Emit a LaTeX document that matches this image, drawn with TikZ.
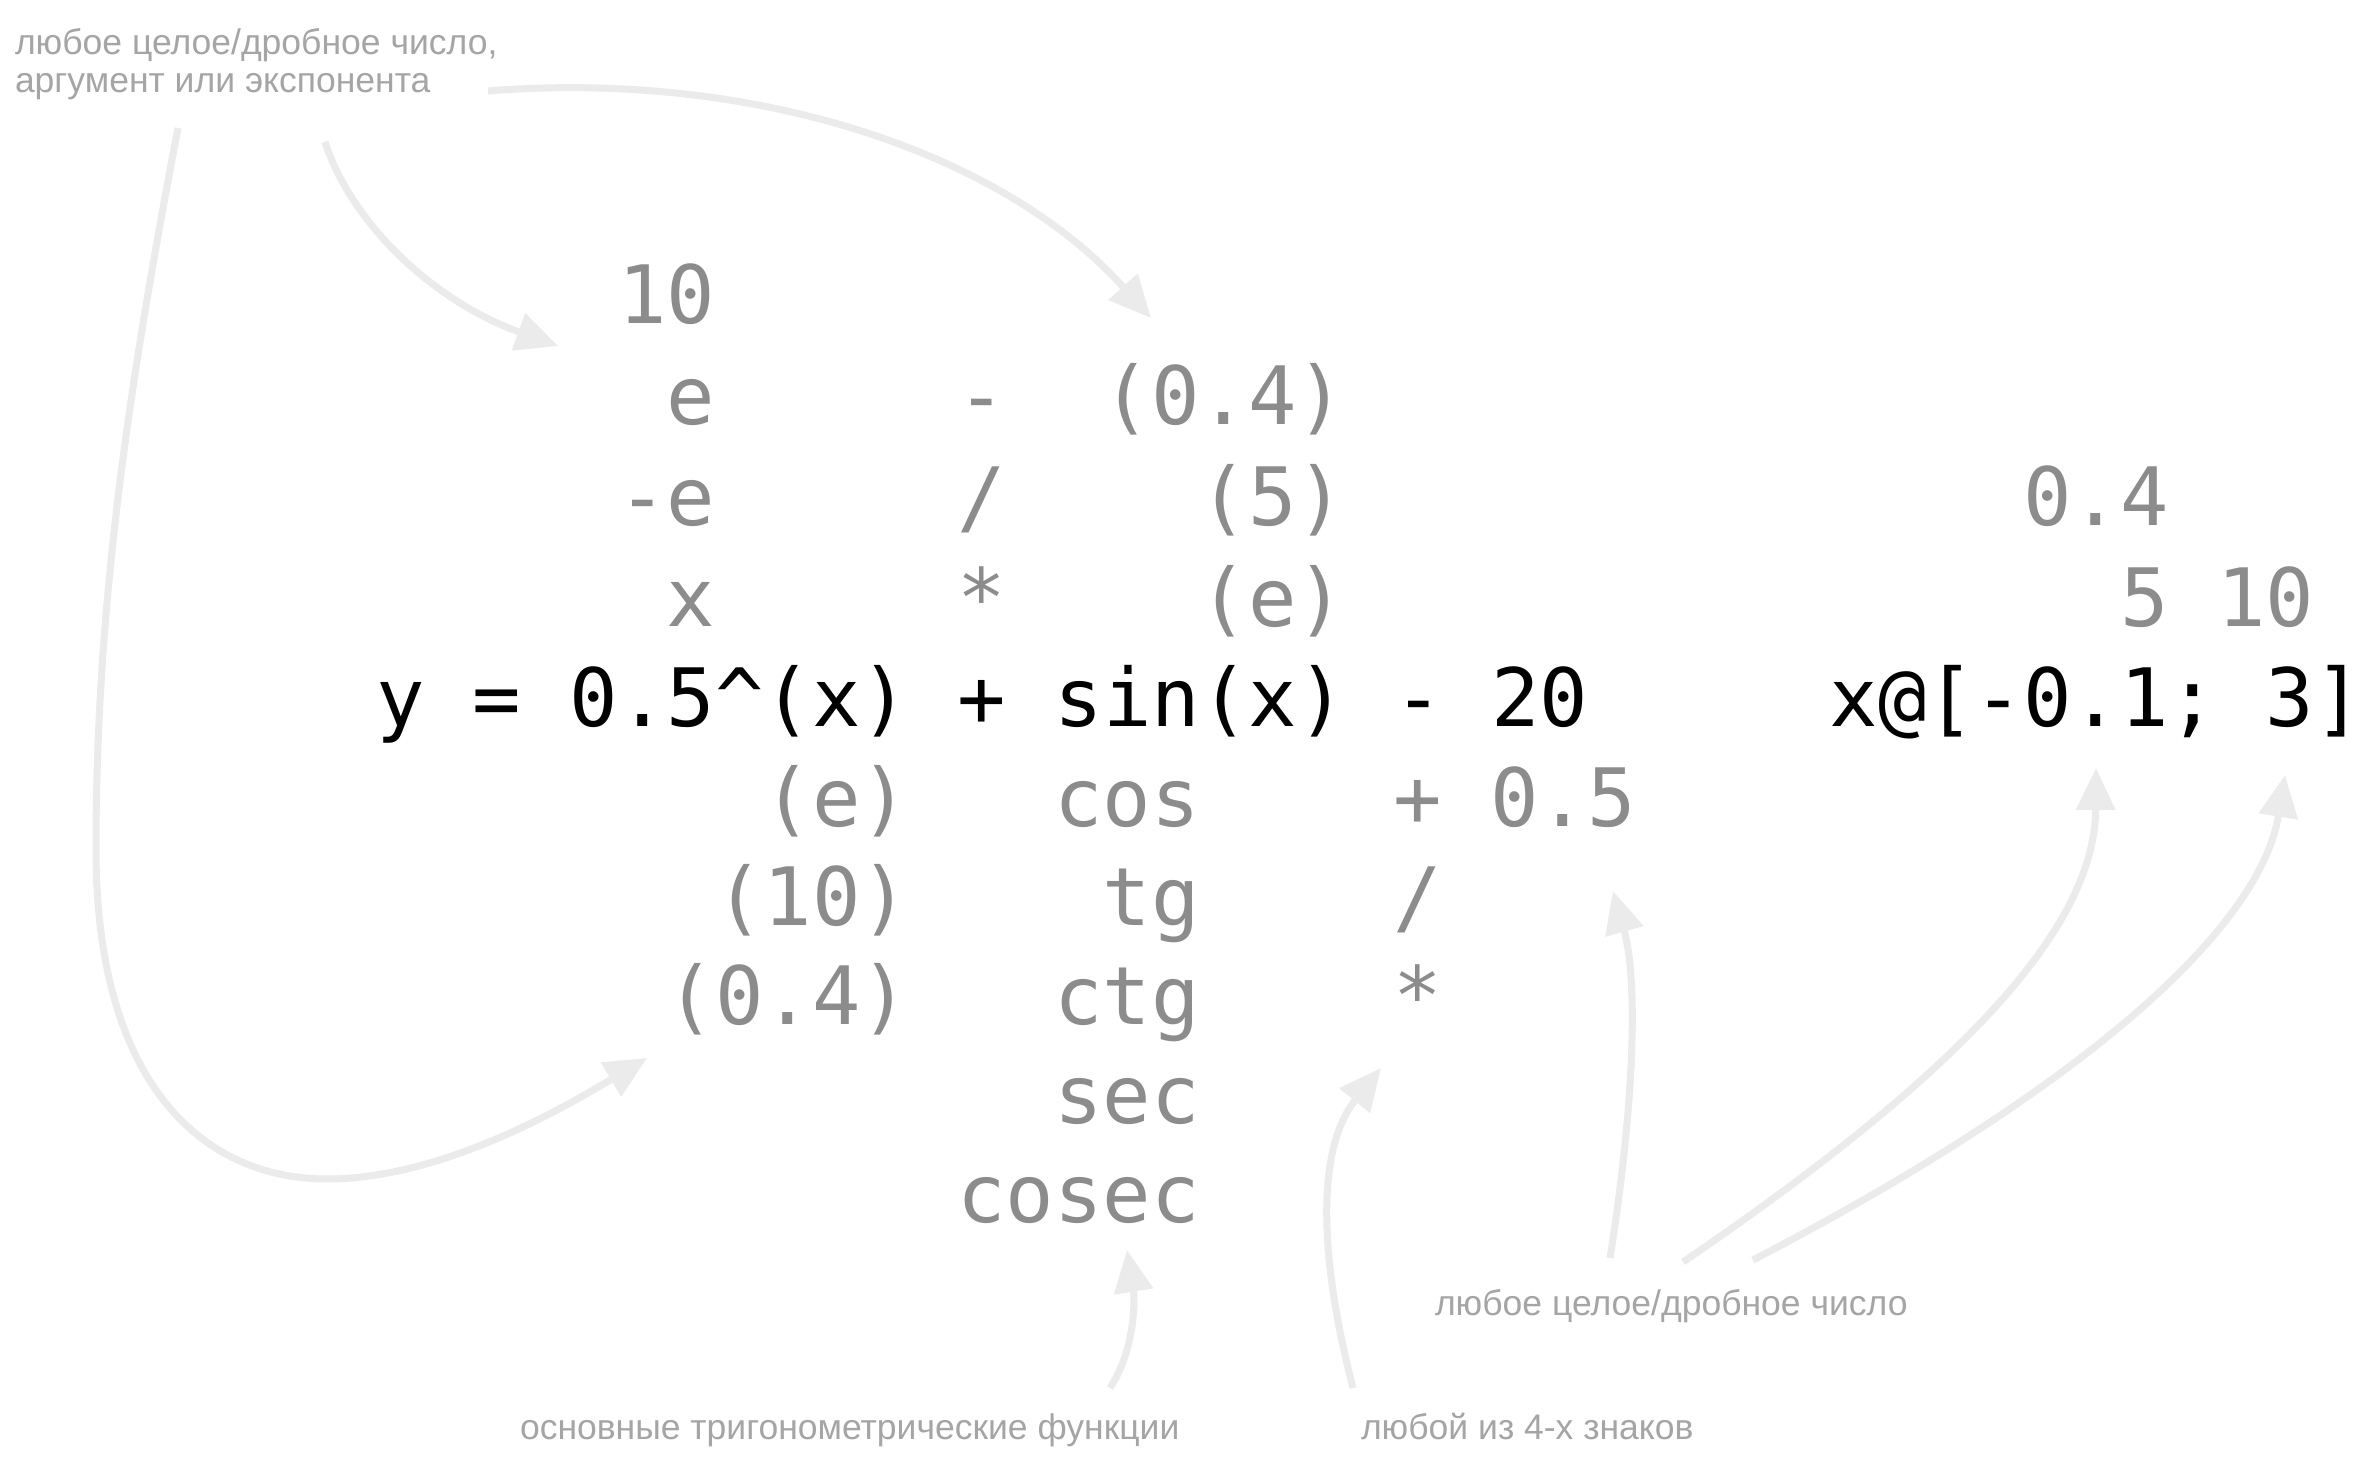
\documentclass[tikz,border=0pt]{standalone}
\usepackage{fontspec}
\setmainfont{Liberation Sans}
\newfontfamily\codefont{DejaVu Sans Mono}
\usetikzlibrary{arrows.meta}
\definecolor{codegrey}{HTML}{8C8C8C}
\definecolor{lblgrey}{HTML}{A5A5A5}
\definecolor{arrgrey}{HTML}{EBEBEB}
\begin{document}
\begin{tikzpicture}[x=0.01cm,y=-0.01cm,
  code/.style={anchor=base west, inner sep=0pt, outer sep=0pt,
    font=\codefont\fontsize{22.90pt}{22.90pt}\selectfont, text=codegrey},
  codemain/.style={code, text=black},
  lbl/.style={anchor=base west, inner sep=0pt, outer sep=0pt,
    font=\fontsize{10.1pt}{10.81pt}\selectfont, text=lblgrey, align=left},
  pointer/.style={draw=arrgrey, line width=0.07cm,
    -{Triangle[length=0.42cm,width=0.38cm]}}]
\useasboundingbox[fill=white] (0,0) rectangle (2363,1471);

% ---- code rows (col x = 376 + 48.45 c) ----
\node[code] (n10)   at (618.25,323.8) {10};
\node[code] (ne)    at (666.7,424.6) {e};
\node[code] (nme)   at (618.25,525.4) {-e};
\node[code] (nx)    at (666.7,626.2) {x};
\node[code] (nmin)  at (957.4,424.6) {-};
\node[code] (nsl)   at (957.4,525.4) {/};
\node[code] (nst)   at (957.4,626.2) {*};
\node[code] (np04)  at (1102.75,424.6) {(0.4)};
\node[code] (np5)   at (1199.65,525.4) {(5)};
\node[code] (npe)   at (1199.65,626.2) {(e)};
\node[code] (r04)   at (2023.3,525.4) {0.4};
\node[code] (r510)  at (2120.2,626.2) {5 10};

\node[codemain] (main)  at (376,727) {y = 0.5\textasciicircum(x) + sin(x) - 20};
\node[codemain] (range) at (1829.5,727) {x@[-0.1; 3]};

\node[code] (ee)    at (763.6,826.2) {(e)};
\node[code] (e10)   at (715.15,925.4) {(10)};
\node[code] (e04)   at (666.7,1024.6) {(0.4)};
\node[code] (fcos)  at (1054.3,826.2) {cos};
\node[code] (ftg)   at (1102.75,925.4) {tg};
\node[code] (fctg)  at (1054.3,1024.6) {ctg};
\node[code] (fsec)  at (1054.3,1123.8) {sec};
\node[code] (fcsc)  at (957.4,1223) {cosec};
\node[code] (p05)   at (1393.45,826.2) {+ 0.5};
\node[code] (s2)    at (1393.45,925.4) {/};
\node[code] (st2)   at (1393.45,1024.6) {*};

% ---- labels ----
\node[lbl] (lbltop) at (15,93) {любое целое/дробное число,\\аргумент или экспонента};
\node[lbl] (lbltrig) at (520,1440) {основные тригонометрические функции};
\node[lbl] (lblsign) at (1361,1440) {любой из 4-х знаков};
\node[lbl] (lblnum) at (1435,1316) {любое целое/дробное число};

% ---- connector ends ----
\coordinate (aS) at (178,128);   \coordinate (aT) at (647,1058);
\coordinate (bS) at (325,142);   \coordinate (bT) at (558,346);
\coordinate (cS) at (488,91);    \coordinate (cT) at (1151,318);
\coordinate (dS) at (1110,1388); \coordinate (dT) at (1127,1250);
\coordinate (eS) at (1353,1388); \coordinate (eT) at (1381,1068);
\coordinate (fS) at (1610,1258); \coordinate (fT) at (1613,891);
\coordinate (gS) at (1683,1262); \coordinate (gT) at (2096,768);
\coordinate (hS) at (1753,1260); \coordinate (hT) at (2285,775);

\draw[pointer] (aS) .. controls (130,380) and (96,600) .. (96,850)
  .. controls (96,1080) and (200,1179) .. (327,1179)
  .. controls (440,1179) and (560,1110) .. (aT);
\draw[pointer] (bS) .. controls (350,220) and (430,300) .. (bT);
\draw[pointer] (cS) .. controls (750,70) and (1000,150) .. (cT);
\draw[pointer] (dS) .. controls (1135,1350) and (1135,1300) .. (dT);
\draw[pointer] (eS) .. controls (1320,1260) and (1315,1150) .. (eT);
\draw[pointer] (fS) .. controls (1635,1100) and (1638,980) .. (fT);
\draw[pointer] (gS) .. controls (1980,1060) and (2095,920) .. (gT);
\draw[pointer] (hS) .. controls (2080,1090) and (2260,930) .. (hT);
\end{tikzpicture}
\end{document}
